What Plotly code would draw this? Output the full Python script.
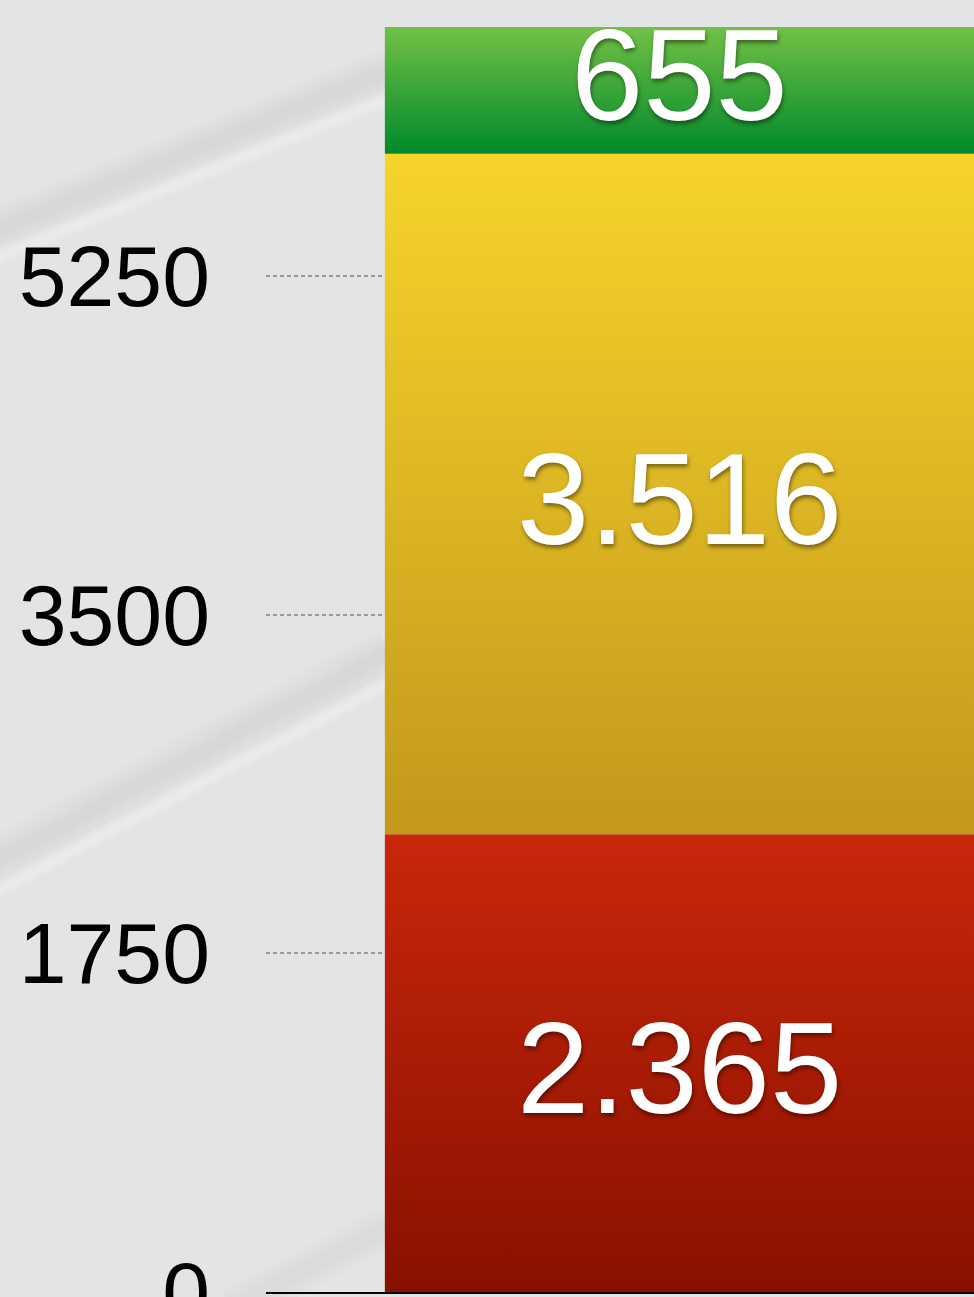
import plotly.graph_objects as go

# ---- data ----
segment_names = ["Rot", "Gelb", "Grün"]
segment_values = [2365, 3516, 655]
segment_top_colors = ["#c9270a", "#f6d42b", "#72c146"]
segment_bottom_colors = ["#881000", "#c3981c", "#00892b"]
tick_values = [0, 1750, 3500, 5250]
tick_labels = ["0", "1750", "3500", "5250"]
category_x = 0.0
bar_half_width = 0.4

fig = go.Figure()

base = 0
annotations = []
for name, val, ctop, cbot in zip(segment_names, segment_values, segment_top_colors, segment_bottom_colors):
    top = base + val
    x0, x1 = category_x - bar_half_width, category_x + bar_half_width
    fig.add_trace(go.Scatter(
        x=[x0, x1, x1, x0, x0],
        y=[base, base, top, top, base],
        mode="lines",
        line=dict(width=0),
        fill="toself",
        fillgradient=dict(type="vertical", colorscale=[[0, cbot], [1, ctop]]),
        name=name,
        hoverinfo="skip",
        showlegend=False,
    ))
    label = f"{val:,}".replace(",", ".")
    annotations.append(dict(
        x=category_x, y=(base + top) / 2, xref="x", yref="y",
        text=label, showarrow=False,
        yshift=15 if val < 1000 else -5,
        font=dict(family="Liberation Sans, Helvetica Neue, Arial", size=130, color="white",
                  shadow="1px 3px 4px rgba(0,0,0,0.45)"),
    ))
    base = top

# faint, soft background swooshes (decoration, paper coordinates)
L, W, H = 266, 708, 1292
def px(x, y):
    return (x - L) / W, (H - y) / H

def soft_band(p0, p1, widths, rgb, alpha):
    (ax, ay), (bx, by) = px(*p0), px(*p1)
    out = []
    for w in widths:
        out.append(dict(type="line", xref="paper", yref="paper", x0=ax, y0=ay, x1=bx, y1=by,
                        line=dict(color=f"rgba({rgb},{alpha})", width=w), layer="below"))
    return out

shapes = []
shapes += soft_band((-40, 245), (390, 70), [44, 34, 24, 14], "0,0,0", 0.012)
shapes += soft_band((-40, 272), (390, 97), [16, 10], "255,255,255", 0.12)
shapes += soft_band((-40, 880), (390, 652), [48, 36, 24, 14], "0,0,0", 0.012)
shapes += soft_band((-40, 910), (390, 682), [16, 10], "255,255,255", 0.12)
shapes += soft_band((230, 1310), (390, 1225), [40, 28, 16], "0,0,0", 0.012)

fig.update_layout(
    width=974, height=1297,
    margin=dict(l=266, r=0, t=0, b=5),
    paper_bgcolor="#e3e4e5",
    plot_bgcolor="rgba(0,0,0,0)",
    showlegend=False,
    annotations=annotations,
    xaxis=dict(range=[-0.5614, 0.4], showgrid=False, zeroline=False,
               showticklabels=False, showline=True, linecolor="black", linewidth=2,
               fixedrange=True),
    yaxis=dict(range=[0, 6675], tickvals=tick_values, ticktext=tick_labels,
               showgrid=True, gridcolor="#999999", gridwidth=2, griddash="4px,3px",
               zeroline=False, showline=False,
               tickfont=dict(family="Liberation Sans, Helvetica Neue, Arial", size=86, color="#000"),
               ticklabelstandoff=55, ticklabeloverflow="allow", automargin=False),
    shapes=shapes,
)

fig.write_html(
    "out.html",
    config={"displayModeBar": False},
    post_script="document.body.style.margin='0';document.body.style.padding='0';document.body.style.overflow='hidden';",
)
